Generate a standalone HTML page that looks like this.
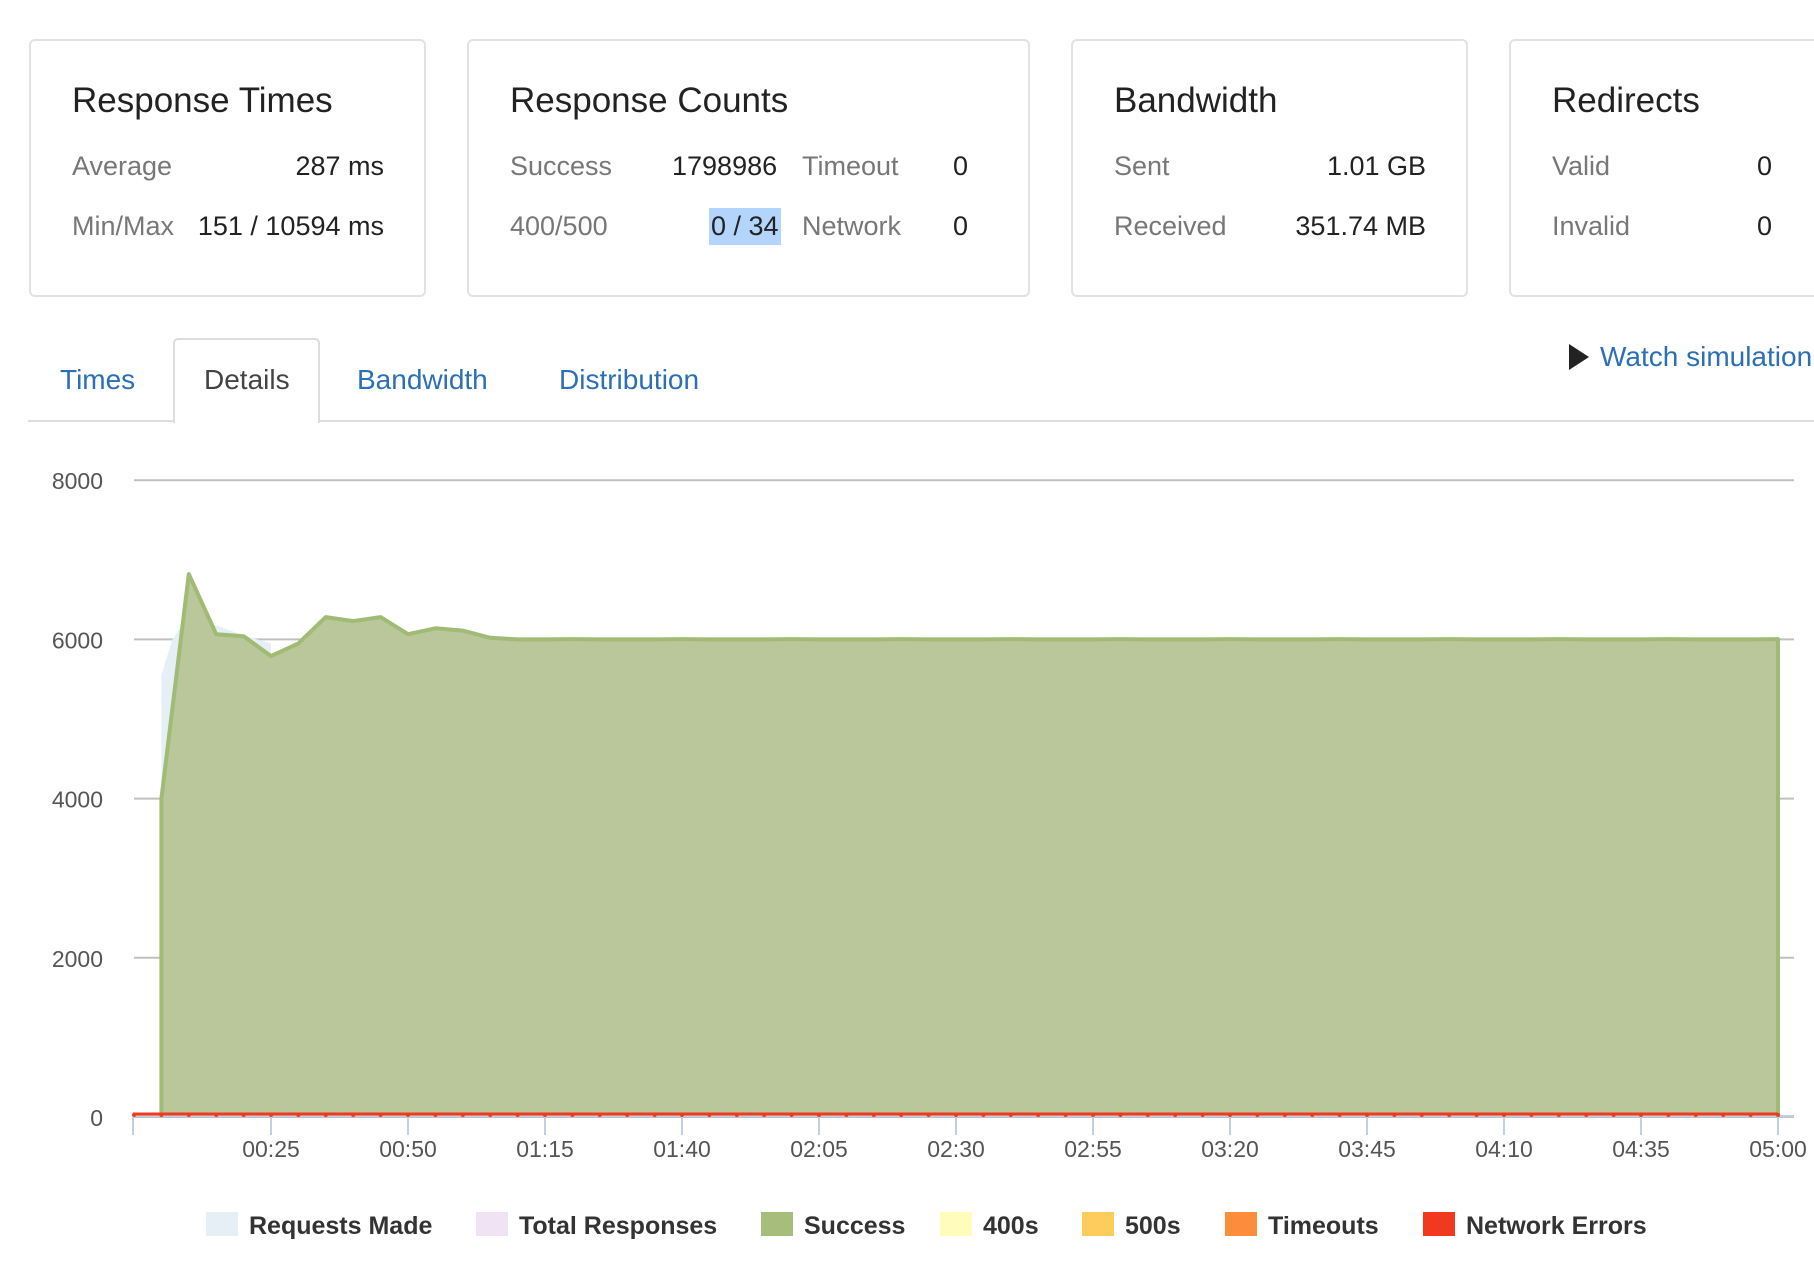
<!DOCTYPE html>
<html><head><meta charset="utf-8"><style>
*{margin:0;padding:0;box-sizing:border-box}
body{width:1814px;height:1270px;background:#fff;font-family:"Liberation Sans",sans-serif;position:relative;overflow:hidden}
.card{position:absolute;top:39px;height:258px;border:2px solid #e2e2e2;border-radius:6px;background:#fff}
.t{position:absolute;font-size:35px;color:#222;top:40px}
.l{position:absolute;font-size:27px;color:#777}
.v{position:absolute;font-size:27px;color:#222;text-align:right}
.tab{position:absolute;top:364px;font-size:28px;color:#2b6fb6}
</style></head><body>
<div class="card" style="left:29px;width:397px">
 <div class="t" style="left:41px">Response Times</div>
 <div class="l" style="left:41px;top:110px">Average</div><div class="v" style="right:40px;top:110px">287 ms</div>
 <div class="l" style="left:41px;top:170px">Min/Max</div><div class="v" style="right:40px;top:170px">151 / 10594 ms</div>
</div>
<div class="card" style="left:467px;width:563px">
 <div class="t" style="left:41px">Response Counts</div>
 <div class="l" style="left:41px;top:110px">Success</div><div class="v" style="left:203px;top:110px">1798986</div>
 <div class="l" style="left:333px;top:110px">Timeout</div><div class="v" style="left:484px;top:110px">0</div>
 <div class="l" style="left:41px;top:170px">400/500</div><div class="v" style="left:240px;top:167px;background:#b3d4fc;padding:3px 2px">0 / 34</div>
 <div class="l" style="left:333px;top:170px">Network</div><div class="v" style="left:484px;top:170px">0</div>
</div>
<div class="card" style="left:1071px;width:397px">
 <div class="t" style="left:41px">Bandwidth</div>
 <div class="l" style="left:41px;top:110px">Sent</div><div class="v" style="right:40px;top:110px">1.01 GB</div>
 <div class="l" style="left:41px;top:170px">Received</div><div class="v" style="right:40px;top:170px">351.74 MB</div>
</div>
<div class="card" style="left:1509px;width:340px">
 <div class="t" style="left:41px">Redirects</div>
 <div class="l" style="left:41px;top:110px">Valid</div><div class="v" style="left:246px;top:110px">0</div>
 <div class="l" style="left:41px;top:170px">Invalid</div><div class="v" style="left:246px;top:170px">0</div>
</div>
<div style="position:absolute;left:28px;top:420px;width:1786px;height:2px;background:#ddd"></div>
<div style="position:absolute;left:173px;top:338px;width:147px;height:85px;border:2px solid #ddd;border-bottom:none;border-radius:5px 5px 0 0;background:#fff"></div>
<div class="tab" style="left:60px">Times</div>
<div class="tab" style="left:204px;color:#444">Details</div>
<div class="tab" style="left:357px">Bandwidth</div>
<div class="tab" style="left:559px">Distribution</div>
<div style="position:absolute;left:1569px;top:344px;width:0;height:0;border-left:20px solid #222;border-top:13px solid transparent;border-bottom:13px solid transparent"></div>
<div class="tab" style="left:1600px;top:341px">Watch simulation</div>
<svg id="c" width="1814" height="1270" style="position:absolute;left:0;top:0" font-family="Liberation Sans,sans-serif"></svg>
<script>
var s='';
function X(t){return 134+t*5.48}function Y(v){return 1117-v*0.0796}
[0,2000,4000,6000,8000].forEach(function(v){var y=Y(v);s+='<line x1="134" x2="1794" y1="'+y+'" y2="'+y+'" stroke="#c0c0c0" stroke-width="2"/>';s+='<text x="103" y="'+(y+9)+'" text-anchor="end" font-size="23" fill="#555">'+v+'</text>'});
var vals={5:4000,10:6820,15:6065,20:6040,25:5790,30:5950,35:6280,40:6230,45:6280,50:6065,55:6140,60:6110,65:6020};
var pts=[];for(var t=5;t<=300;t+=5){var v=vals[t]!==undefined?vals[t]:(6000+((t/5)%4==0?4:0));pts.push([X(t),Y(v)])}
var rq=[[X(5),Y(5550)],[X(7),Y(6000)],[X(10),Y(6300)],[X(20),Y(6050)],[X(25),Y(5950)]];
var p='M'+X(5)+','+Y(0);rq.forEach(function(q){p+=' L'+q[0]+','+q[1]});p+=' L'+X(25)+','+Y(0)+'Z';
s+='<path d="'+p+'" fill="#e6eef6"/>';
var d='M'+X(5)+','+Y(0);pts.forEach(function(q){d+=' L'+q[0].toFixed(1)+','+q[1].toFixed(1)});d+=' L'+X(300)+','+Y(0)+'Z';
s+='<path d="'+d+'" fill="#b9c79a"/>';
var ln='';pts.forEach(function(q,i){ln+=(i?' L':'M')+q[0].toFixed(1)+','+q[1].toFixed(1)});
s+='<path d="M'+X(5)+','+Y(0)+' L'+ln.slice(1)+' L'+X(300)+','+Y(0)+'" fill="none" stroke="#a0bb73" stroke-width="4" stroke-linejoin="round"/>';
s+='<line x1="133" x2="1794" y1="1116" y2="1116" stroke="#c0d0e0" stroke-width="2"/>';
s+='<line x1="133" x2="1778" y1="1114" y2="1114" stroke="#f0391f" stroke-width="3"/>';
for(var t=0;t<=300;t+=5){s+='<circle cx="'+X(t)+'" cy="1115" r="2" fill="#f0391f"/>'}
var lab=['00:25','00:50','01:15','01:40','02:05','02:30','02:55','03:20','03:45','04:10','04:35','05:00'];
s+='<line x1="133" x2="133" y1="1117" y2="1135" stroke="#c0d0e0" stroke-width="2"/>';
lab.forEach(function(L,i){var x=X((i+1)*25);s+='<line x1="'+x+'" x2="'+x+'" y1="1117" y2="1135" stroke="#c0d0e0" stroke-width="2"/><text x="'+x+'" y="1157" text-anchor="middle" font-size="23" fill="#555">'+L+'</text>'});
var lg=[[206,'#e6eef6','Requests Made'],[476,'#f0e4f4','Total Responses'],[761,'#a7bd7c','Success'],[940,'#fffcbc','400s'],[1082,'#fecb5d','500s'],[1225,'#fd8d3c','Timeouts'],[1423,'#f0391f','Network Errors']];
lg.forEach(function(g){s+='<rect x="'+g[0]+'" y="1212" width="32" height="24" fill="'+g[1]+'"/><text x="'+(g[0]+43)+'" y="1234" font-size="25" font-weight="bold" fill="#333">'+g[2]+'</text>'});
document.getElementById('c').innerHTML=s;
</script>
</body></html>
